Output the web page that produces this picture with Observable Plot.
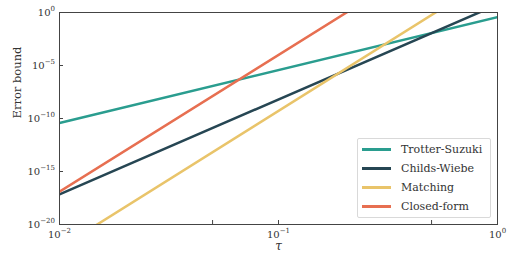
<!DOCTYPE html>
<html>
<head>
<meta charset="utf-8">
<script src="https://cdn.jsdelivr.net/npm/d3@7"></script>
<script src="https://cdn.jsdelivr.net/npm/@observablehq/plot@0.6"></script>
<style>
  html, body { margin: 0; padding: 0; background: #fff; }
  #wrap { position: relative; width: 515px; height: 265px; font-family: "DejaVu Serif", serif; color: #333; }
  #wrap svg { position: absolute; left: 0; top: 0; }
  #legend { position: absolute; left: 357px; top: 138px; width: 132px; height: 77px; padding-top: 1px;
            border: 1px solid #d9d9d9; border-radius: 2px; background: rgba(255,255,255,0.85); }
  .row { display: flex; align-items: center; height: 19px; }
  .sw { width: 29px; height: 2.5px; margin-left: 4px; margin-right: 10px; }
  .lab { font-family: "DejaVu Serif", serif; font-size: 11px; line-height: 12px; color: #333; white-space: nowrap; }
</style>
</head>
<body>
<div id="wrap"></div>
<script>
// ---- data (values at tau = 0.01 and tau = 1) ----
const tau = [0.01, 1];
const seriesNames = ["Trotter-Suzuki", "Childs-Wiebe", "Matching", "Closed-form"];
const trotterSuzuki = [3.8e-11, 0.37];
const childsWiebe = [7.1e-18, 5.6];
const matching = [5.9e-23, 4.6e3];
const closedForm = [1.26e-17, 7.8e8];
const colors = ["#2a9d8f", "#264653", "#e9c46a", "#e76f51"];
const yTicks = [1e-20, 1e-15, 1e-10, 1e-5, 1];
const xTicks = [0.01, 0.05, 0.1, 0.5, 1];
const xLabelled = [0.01, 0.1, 1];
const yLabel = "Error bound";
const xLabel = "τ";

const seriesValues = [trotterSuzuki, childsWiebe, matching, closedForm];
const rows = [];
seriesValues.forEach((vals, i) => vals.forEach((v, j) => rows.push({tau: tau[j], err: v, method: seriesNames[i]})));

const fmt = d => "10^" + Math.round(Math.log10(d));
const fmtX = d => xLabelled.includes(d) ? fmt(d) : "";

const chart = Plot.plot({
  width: 515,
  height: 265,
  marginLeft: 59,
  marginRight: 18,
  marginTop: 12,
  marginBottom: 41,
  style: {fontFamily: "'DejaVu Serif', serif", fontSize: "10px", color: "#333", background: "transparent"},
  x: {type: "log", domain: [0.01, 1]},
  y: {type: "log", domain: [1e-20, 1]},
  color: {domain: seriesNames, range: colors},
  marks: [
    Plot.line(rows, {x: "tau", y: "err", z: "method", stroke: "method", strokeWidth: 2.5, clip: true}),
    Plot.frame({stroke: "#444"}),
    Plot.axisY(yTicks, {tickSize: -4, tickPadding: 8.5, tickFormat: fmt, label: null, stroke: "#444", fontSize: 10}),
    Plot.axisX(xTicks, {tickSize: -4, tickPadding: 10, tickFormat: fmtX, label: null, stroke: "#444", fontSize: 10}),
    Plot.text([yLabel], {frameAnchor: "left", rotate: -90, dx: -42, fontSize: 11.5, fill: "#333"}),
    Plot.text([xLabel], {frameAnchor: "bottom", dy: 25, fontSize: 12, fontStyle: "italic", fill: "#333"})
  ]
});

// superscript exponents
d3.select(chart).selectAll('g[aria-label$="tick label"] text').each(function() {
  const t = d3.select(this);
  const s = t.text();
  if (!s.includes("^")) return;
  const [b, e] = s.split("^");
  t.text(null);
  t.append("tspan").text(b);
  t.append("tspan").attr("font-size", "7px").attr("dy", "-4.5").text(e.replace("-", "−"));
});

const wrap = document.getElementById("wrap");
wrap.appendChild(chart);

const legend = document.createElement("div");
legend.id = "legend";
seriesNames.forEach((name, i) => {
  const row = document.createElement("div");
  row.className = "row";
  const sw = document.createElement("span");
  sw.className = "sw";
  sw.style.background = colors[i];
  const lab = document.createElement("span");
  lab.className = "lab";
  lab.textContent = name;
  row.appendChild(sw);
  row.appendChild(lab);
  legend.appendChild(row);
});
wrap.appendChild(legend);
</script>
</body>
</html>
